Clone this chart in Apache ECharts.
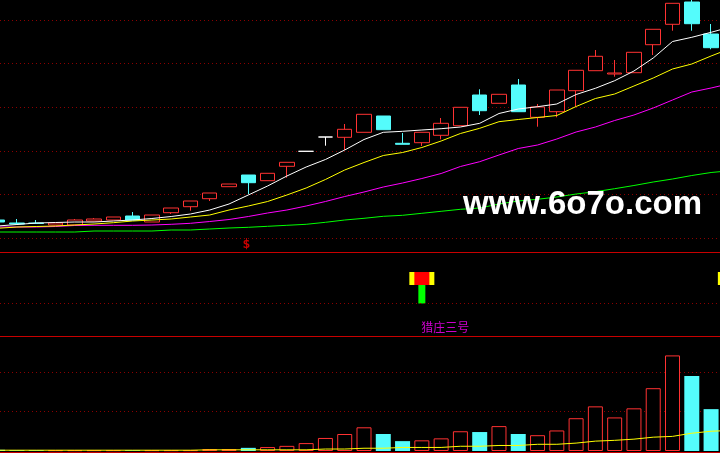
<!DOCTYPE html>
<html><head><meta charset="utf-8">
<script src="https://cdn.jsdelivr.net/npm/echarts@6/dist/echarts.min.js"></script>
<style>html,body{margin:0;padding:0;background:#000;overflow:hidden;width:720px;height:453px;position:relative;}#c{position:absolute;left:-12px;top:0;width:752px;height:453px;}</style>
</head><body><div id="c"></div>
<script>
// ---- data ----
const days = Array.from({length: 39}, (_, i) => 'D' + (i + 1));
const candleOpen  = [1.80,1.50,1.50,1.30,1.30,1.70,1.80,2.20,1.60,2.53,3.13,3.93,5.13,6.30,5.73,7.17,8.67,10.10,10.07,10.57,12.20,9.47,9.53,10.27,11.23,14.30,13.47,15.30,12.07,12.63,14.73,16.73,16.40,16.53,19.33,21.37,23.60,20.40];
const candleClose = [1.60,1.40,1.45,1.50,1.80,1.90,2.10,1.80,2.30,3.00,3.70,4.50,5.40,5.53,6.47,7.57,8.67,10.10,10.87,12.37,10.83,9.37,10.57,11.47,13.07,12.73,14.37,12.63,13.10,14.80,16.77,18.17,16.50,18.57,20.87,23.47,21.43,19.03];
const candleLow   = [1.60,1.40,1.40,1.30,1.30,1.70,1.80,1.80,1.60,2.40,2.73,3.70,5.13,4.40,5.73,6.03,8.67,9.23,8.80,10.57,10.83,9.37,9.20,9.87,11.23,12.30,13.47,12.63,11.13,12.07,13.13,16.73,16.13,16.53,18.30,20.73,20.73,18.87];
const candleHigh  = [1.80,1.90,1.80,1.50,1.90,2.00,2.10,2.60,2.30,3.00,3.70,4.50,5.40,6.30,6.47,7.57,8.67,10.10,11.40,12.37,12.20,10.50,10.57,12.00,13.07,14.87,14.37,15.90,13.40,14.80,16.77,18.80,17.80,18.57,20.87,23.47,23.80,21.40];
const ma5  = [1.20,1.35,1.50,1.55,1.60,1.60,1.70,1.80,1.95,2.15,2.40,2.80,3.40,4.30,5.20,6.20,7.10,7.85,8.80,9.85,10.57,10.67,10.80,10.93,11.10,11.47,12.45,12.90,13.13,13.40,14.35,14.97,15.73,16.70,18.00,19.65,20.07,20.57,21.10];
const ma10 = [0.97,1.10,1.15,1.20,1.30,1.40,1.53,1.70,1.80,1.90,2.10,2.30,2.80,3.20,3.65,4.30,5.00,5.85,6.80,7.55,8.25,8.55,9.05,9.70,10.45,10.97,11.63,11.85,12.05,12.25,13.15,13.95,14.40,15.20,16.00,16.90,17.40,18.20,18.95];
const ma20 = [1.10,1.10,1.10,1.15,1.25,1.27,1.27,1.27,1.30,1.37,1.47,1.65,1.85,2.15,2.50,2.80,3.20,3.65,4.15,4.60,5.10,5.50,5.95,6.45,7.15,7.63,8.30,8.95,9.30,9.90,10.60,11.10,11.75,12.30,13.00,13.80,14.60,15.00,15.45];
const ma60 = [0.60,0.60,0.60,0.60,0.60,0.70,0.70,0.70,0.70,0.80,0.80,0.90,1.00,1.07,1.17,1.27,1.37,1.57,1.80,1.97,2.17,2.27,2.47,2.67,2.87,3.00,3.40,3.70,3.87,4.10,4.40,4.63,4.93,5.25,5.60,5.90,6.25,6.55,6.73];
const volume = [0.03,0.02,0.02,0.02,0.02,0.02,0.02,0.02,0.02,0.02,0.02,0.05,0.05,0.08,0.10,0.13,0.20,0.33,0.43,0.60,0.43,0.25,0.27,0.32,0.50,0.48,0.63,0.43,0.40,0.52,0.83,1.13,0.85,1.08,1.59,2.42,1.90,1.06];
const volMa = [0.02,0.02,0.02,0.02,0.02,0.02,0.02,0.02,0.02,0.02,0.02,0.03,0.03,0.03,0.03,0.03,0.03,0.05,0.05,0.07,0.07,0.09,0.09,0.09,0.12,0.12,0.14,0.14,0.17,0.17,0.20,0.25,0.27,0.30,0.35,0.37,0.45,0.50,0.52];
const signalDays = [22, 38];
const signalStem = [23, 23];
const signalBoxLow = [22, 22];
const signalBoxHigh = [37.5, 37.5];
const signalName = '猎庄三号';
const signalNameLevel = -29;
const sellMarkDay = 13;
const sellMarkLevel = -0.7;
const watermark = 'www.6o7o.com';

// ---- colors ----
const RED = '#ff3232', CYAN = '#54fcfc', GRID_RED = '#c80000', DOT_RED = '#8c0000';

const candles = days.map((d, i) => i < candleOpen.length ? [candleOpen[i], candleClose[i], candleLow[i], candleHigh[i]] : '-');
const volBars = days.map((d, i) => {
  if (i >= volume.length) return '-';
  const up = candleClose[i] >= candleOpen[i];
  return {value: volume[i], itemStyle: up ? {color: '#000', borderColor: RED, borderWidth: 1} : {color: CYAN, borderColor: CYAN, borderWidth: 0}};
});
const signalData = signalDays.map((d, i) => [d, 0, signalStem[i], signalBoxLow[i], signalBoxHigh[i]]);

const dotted = {show: true, lineStyle: {color: DOT_RED, type: [1, 3], width: 1}};
function xAx(gi, off) {
  return {type: 'category', gridIndex: gi, data: days, boundaryGap: true, offset: off,
    axisLine: {show: true, onZero: false, lineStyle: {color: GRID_RED, width: 1}}, axisTick: {show: false}, axisLabel: {show: false}, splitLine: {show: false}};
}
const hiddenY = {axisLine: {show: false}, axisTick: {show: false}, axisLabel: {show: false}};

const chart = echarts.init(document.getElementById('c'), null, {renderer: 'canvas'});
chart.setOption({
  backgroundColor: '#000',
  animation: false,
  grid: [
    {left: 0, right: 0, top: 20, height: 218},
    {left: 0, right: 0, top: 252, height: 84},
    {left: 0, right: 0, top: 332.5, height: 118.5}
  ],
  xAxis: [xAx(0, 14), xAx(1, 0), xAx(2, 1)],
  yAxis: [
    Object.assign({type: 'value', gridIndex: 0, min: 0, max: 21.8, interval: 4.36, splitLine: dotted}, hiddenY),
    Object.assign({type: 'value', gridIndex: 1, min: -38.7, max: 61.3, splitLine: {show: false}}, hiddenY),
    Object.assign({type: 'value', gridIndex: 2, min: 0, max: 3, interval: 1,
      splitLine: Object.assign({showMinLine: false, showMaxLine: false}, dotted)}, hiddenY)
  ],
  series: [
    {type: 'candlestick', xAxisIndex: 0, yAxisIndex: 0, data: candles, barWidth: 15, clip: false,
      itemStyle: {color: '#000', color0: CYAN, borderColor: RED, borderColor0: CYAN, borderColorDoji: '#ffffff', borderWidth: 1}},
    {type: 'line', xAxisIndex: 0, yAxisIndex: 0, data: ma60, showSymbol: false, clip: false, lineStyle: {color: '#00ff00', width: 1}},
    {type: 'line', xAxisIndex: 0, yAxisIndex: 0, data: ma20, showSymbol: false, clip: false, lineStyle: {color: '#ff00ff', width: 1}},
    {type: 'line', xAxisIndex: 0, yAxisIndex: 0, data: ma10, showSymbol: false, clip: false, lineStyle: {color: '#ffff00', width: 1}},
    {type: 'line', xAxisIndex: 0, yAxisIndex: 0, data: ma5, showSymbol: false, clip: false, lineStyle: {color: '#ffffff', width: 1}},
    {type: 'scatter', xAxisIndex: 0, yAxisIndex: 0, clip: false, symbolSize: 1, itemStyle: {color: 'transparent'},
      data: [[sellMarkDay, sellMarkLevel]],
      label: {show: true, formatter: '$', position: 'inside', offset: [-2, 0], color: '#ff0000', fontSize: 13, fontWeight: 'bold', fontFamily: 'DejaVu Sans Mono'}},
    {type: 'custom', xAxisIndex: 1, yAxisIndex: 1, data: signalData, clip: false,
      renderItem: function (params, api) {
        const idx = api.value(0);
        const base = api.coord([idx, api.value(1)]);
        const stemTop = api.coord([idx, api.value(2)]);
        const boxLow = api.coord([idx, api.value(3)]);
        const boxHigh = api.coord([idx, api.value(4)]);
        const cx = base[0];
        return {type: 'group', children: [
          {type: 'rect', shape: {x: cx - 3.5, y: stemTop[1], width: 7, height: base[1] - stemTop[1]}, style: {fill: '#00ff00'}},
          {type: 'rect', shape: {x: cx - 12.5, y: boxHigh[1], width: 25, height: boxLow[1] - boxHigh[1]}, style: {fill: '#ffff00'}},
          {type: 'rect', shape: {x: cx - 7.5, y: boxHigh[1], width: 15, height: boxLow[1] - boxHigh[1]}, style: {fill: '#ff0000'}}
        ]};
      },
      markLine: {silent: true, symbol: 'none', label: {show: false}, lineStyle: {color: DOT_RED, type: [1, 3], width: 1}, data: [{yAxis: 0}]}
    },
    {type: 'scatter', xAxisIndex: 1, yAxisIndex: 1, clip: false, symbolSize: 1, itemStyle: {color: 'transparent'},
      data: [[signalDays[0], signalNameLevel]],
      label: {show: true, formatter: signalName, position: [0, 0], align: 'left', verticalAlign: 'middle', color: '#ff00ff', fontSize: 12, fontFamily: 'Noto Sans CJK SC'}},
    {type: 'bar', xAxisIndex: 2, yAxisIndex: 2, data: volBars, barWidth: 15},
    {type: 'line', xAxisIndex: 2, yAxisIndex: 2, data: volMa, showSymbol: false, clip: false, lineStyle: {color: '#ffff00', width: 1}, z: 5}
  ],
  graphic: [
    {type: 'text', x: 475, y: 205, z: 100, style: {text: watermark, fill: '#ffffff', font: 'bold 33px "Liberation Sans"', textAlign: 'left', textVerticalAlign: 'middle'}}
  ]
});
</script></body></html>
